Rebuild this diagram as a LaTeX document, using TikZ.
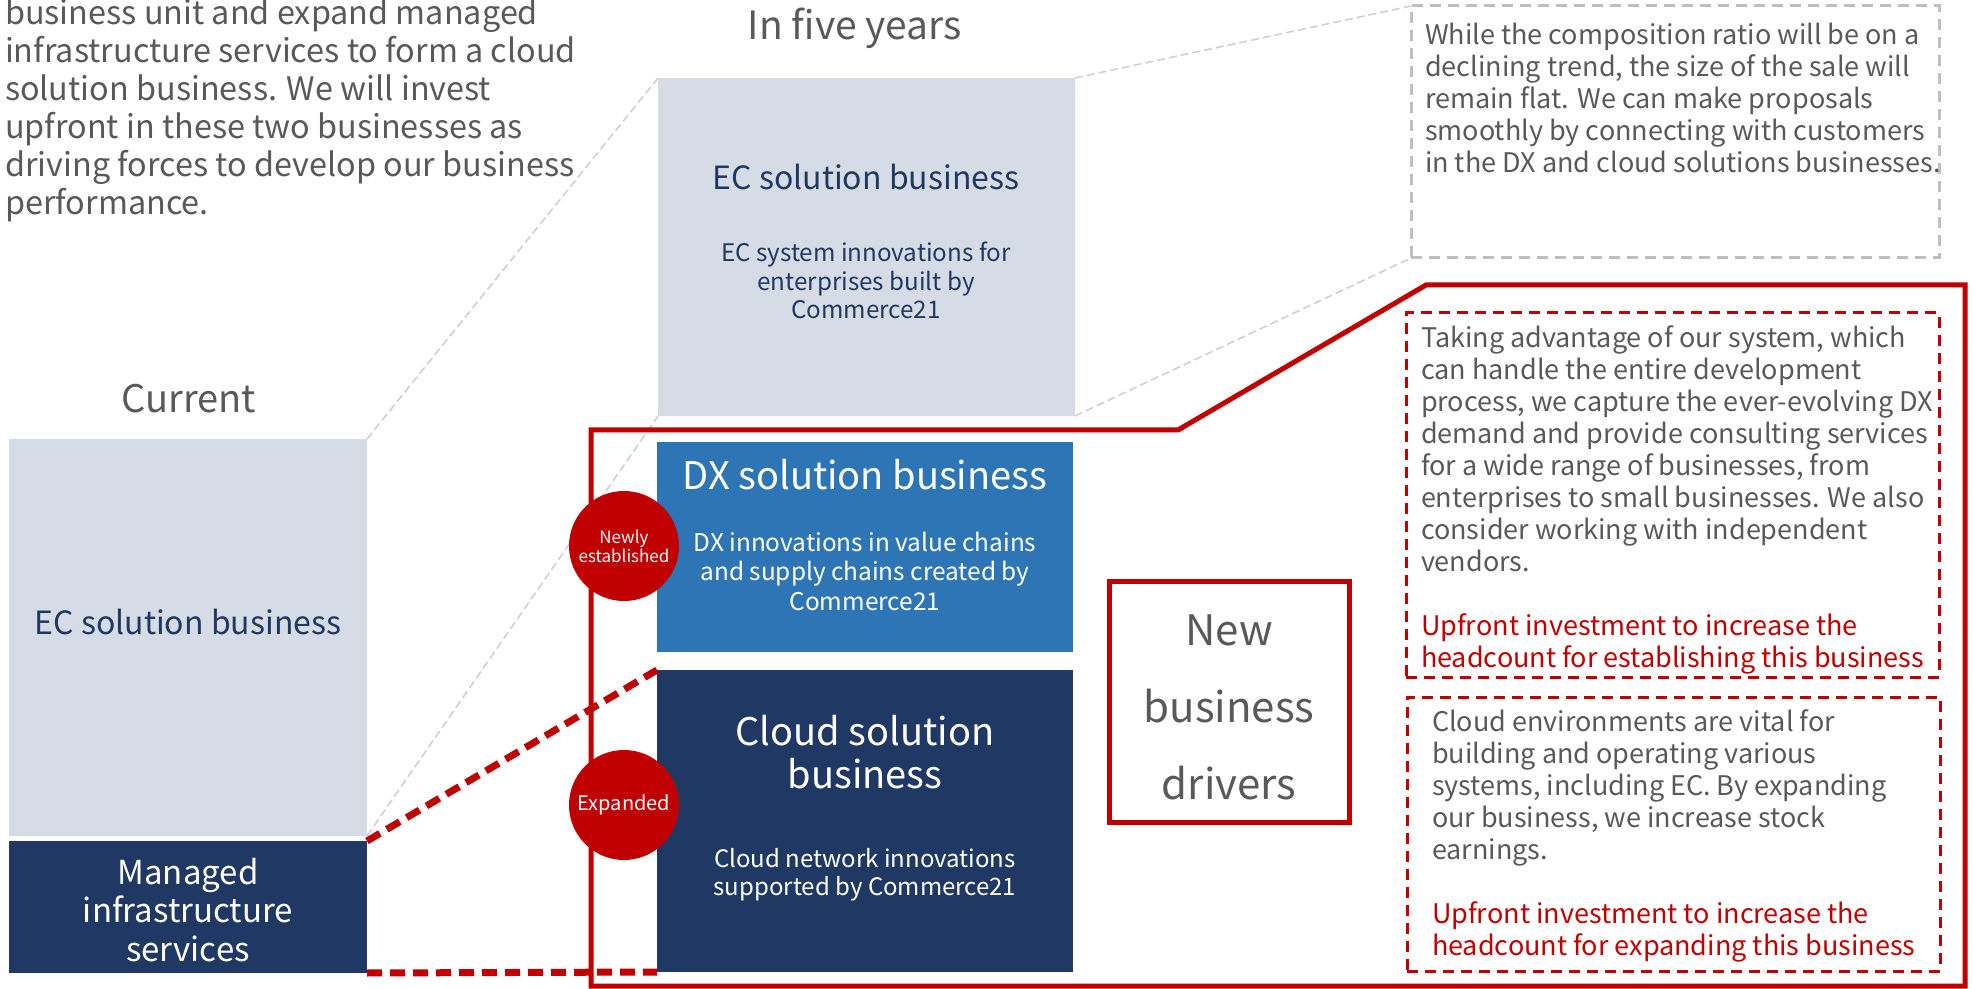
\documentclass[tikz,border=0pt]{standalone}
\usepackage{fontspec}
\setmainfont{Noto Sans CJK JP}
\definecolor{ecgrey}{HTML}{D6DCE5}
\definecolor{navy}{HTML}{203864}
\definecolor{dxblue}{HTML}{2E75B6}
\definecolor{keyred}{HTML}{C00000}
\definecolor{bodygrey}{HTML}{595959}
\definecolor{linkgrey}{HTML}{D0D0D0}
\definecolor{notegrey}{HTML}{BFBFBF}
\begin{document}
\begin{tikzpicture}[x=0.5pt,y=-0.5pt,
  bizbox/.style={rectangle,draw=none,inner sep=0pt,outer sep=0pt},
  greylink/.style={draw=linkgrey,line width=0.8pt,dash pattern=on 4pt off 2pt},
  redlink/.style={draw=keyred,line width=3.5pt,dash pattern=on 7.5pt off 4pt},
  notebox/.style={rectangle,line width=1.5pt,dash pattern=on 5.5pt off 3.5pt,inner sep=0pt,outer sep=0pt},
  notetext/.style={inner sep=0pt,outer sep=0pt,text=bodygrey,anchor=north west,align=left,font=\fontsize{13.5}{16}\selectfont},
  badge/.style={circle,fill=keyred,text=white,minimum size=55pt,inner sep=0pt},
  txt/.style={inner sep=0pt,outer sep=0pt,text=bodygrey}]
\path[use as bounding box,clip] (0,0) rectangle (1972,989);
% current
\node[txt,anchor=north west,align=left,font=\fontsize{16.2}{19}\selectfont] (intro) at (5,-1)
  {business unit and expand managed\\infrastructure services to form a cloud\\solution business. We will invest\\upfront in these two businesses as\\driving forces to develop our business\\performance.};
\node[txt,anchor=base,font=\fontsize{19}{22}\selectfont] (nowlbl) at (189,413) {Current};
\node[bizbox,fill=ecgrey,minimum width=179pt,minimum height=198.5pt] (curEC) at (188,637.5) {};
\node[bizbox,fill=navy,minimum width=179pt,minimum height=66pt] (curMIS) at (188,907) {};
\node[txt,text=navy,anchor=base,font=\fontsize{16}{20}\selectfont] (curECt) at (188,635) {EC solution business};
\node[txt,text=white,anchor=north,align=center,font=\fontsize{16.5}{19.25}\selectfont] (curMISt) at (188,858)
  {Managed\\infrastructure\\services};
% in five years
\node[txt,anchor=base,font=\fontsize{19.5}{23}\selectfont] (futlbl) at (855,40) {In five years};
\node[bizbox,fill=ecgrey,minimum width=208.5pt,minimum height=169pt] (futEC) at (866.5,247) {};
\node[bizbox,fill=dxblue,minimum width=208pt,minimum height=105pt] (dxBox) at (865,547) {};
\node[bizbox,fill=navy,minimum width=208pt,minimum height=151pt] (cloudBox) at (865,821) {};
\node[txt,text=navy,anchor=base,font=\fontsize{16}{20}\selectfont] (futECt) at (866,190) {EC solution business};
\node[txt,text=navy,anchor=north,align=center,font=\fontsize{12.1}{14.25}\selectfont] (futECs) at (866,242)
  {EC system innovations for\\enterprises built by\\Commerce21};
\node[txt,text=white,anchor=base,font=\fontsize{19}{23}\selectfont] (dxt) at (865,490) {DX solution business};
\node[txt,text=white,anchor=north,align=center,font=\fontsize{12.2}{14.75}\selectfont] (dxs) at (865,532)
  {DX innovations in value chains\\and supply chains created by\\Commerce21};
\node[txt,text=white,anchor=north,align=center,font=\fontsize{19}{21.5}\selectfont] (cloudt) at (865,715)
  {Cloud solution\\business};
\node[txt,text=white,anchor=north,align=center,font=\fontsize{12}{14}\selectfont] (clouds) at (865,848)
  {Cloud network innovations\\supported by Commerce21};
% links
\draw[greylink] (curEC.north east) -- (futEC.north west);
\draw[greylink] (curEC.south east) -- (futEC.south west);
\node[notebox,draw=notegrey,minimum width=264pt,minimum height=126pt] (ecNote) at (1675,132) {};
\draw[greylink] (futEC.north east) -- (ecNote.north west);
\draw[greylink] (futEC.south east) -- (ecNote.south west);
\draw[keyred,line width=2.5pt,line join=miter] (591,430) -- (1178,430) -- (1426,285) -- (1965,285) -- (1965,986) -- (591,986) -- cycle;
\draw[redlink] (curMIS.north east) -- (cloudBox.north west);
\draw[redlink] (curMIS.south east) -- (cloudBox.south west);
% notes
\node[notetext] (ecNotet) at (1425,23)
  {While the composition ratio will be on a\\declining trend, the size of the sale will\\remain flat. We can make proposals\\smoothly by connecting with customers\\in the DX and cloud solutions businesses.};
\node[notebox,draw=keyred,minimum width=266.5pt,minimum height=182pt] (dxNote) at (1672.5,495) {};
\node[notetext] (dxNotet) at (1421,326)
  {Taking advantage of our system, which\\can handle the entire development\\process, we capture the ever-evolving DX\\demand and provide consulting services\\for a wide range of businesses, from\\enterprises to small businesses. We also\\consider working with independent\\vendors.\\[16pt]
   \textcolor{keyred}{Upfront investment to increase the}\\\textcolor{keyred}{headcount for establishing this business}};
\node[notebox,draw=keyred,minimum width=266.5pt,minimum height=137pt] (cloudNote) at (1673.5,834) {};
\node[notetext] (cloudNotet) at (1432,710)
  {Cloud environments are vital for\\building and operating various\\systems, including EC. By expanding\\our business, we increase stock\\earnings.\\[16pt]
   \textcolor{keyred}{Upfront investment to increase the}\\\textcolor{keyred}{headcount for expanding this business}};
\node[rectangle,draw=keyred,line width=2.5pt,minimum width=120pt,minimum height=120.5pt,inner sep=0pt] (drivers) at (1229.5,702) {};
\node[txt,anchor=north,align=center,font=\fontsize{21}{38.5}\selectfont] (driverst) at (1229,615)
  {New\\business\\drivers};
% badges
\node[badge,font=\fontsize{8.5}{9.5}\selectfont,align=center] (newly) at (624,546) {Newly\\established};
\node[badge,font=\fontsize{10}{12}\selectfont] (expanded) at (624,805) {Expanded};
\end{tikzpicture}
\end{document}
